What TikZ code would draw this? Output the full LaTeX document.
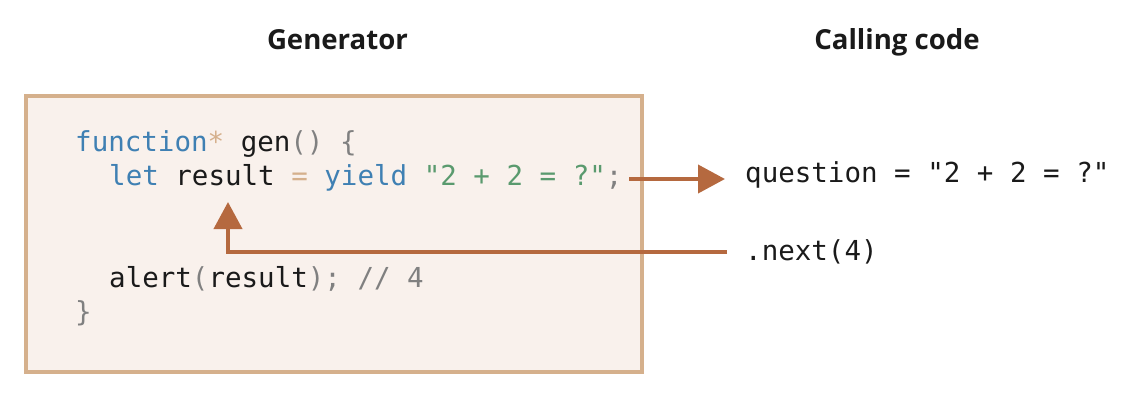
\documentclass[tikz,border=0pt]{standalone}
\usepackage{fontspec}
\setmainfont{Open Sans}
\setmonofont{DejaVu Sans Mono}
\usetikzlibrary{arrows.meta}
\definecolor{boxborder}{HTML}{D5B08C}
\definecolor{boxfill}{HTML}{F9F1EC}
\definecolor{arrowc}{HTML}{B5693F}
\definecolor{kw}{HTML}{3F80B3}
\definecolor{str}{HTML}{5A9A6E}
\definecolor{tan}{HTML}{D5B08C}
\definecolor{punct}{HTML}{808080}
\definecolor{txt}{HTML}{1A1A1A}
\tikzset{
  codeline/.style={anchor=base west, inner sep=0pt, font=\fontsize{27.5bp}{34bp}\selectfont\ttfamily, text=txt},
  title/.style={anchor=base, inner sep=0pt, font=\fontsize{27.6bp}{32bp}\selectfont\bfseries, text=txt},
  arr/.style={draw=arrowc, line width=4bp, -{Triangle[length=27bp,width=28bp]}, arrowc},
}
\begin{document}
\begin{tikzpicture}[x=1bp, y=-1bp]
\useasboundingbox (0,0) rectangle (1144,400);
\draw[draw=boxborder, fill=boxfill, line width=4bp] (26,96) rectangle (642,372);
\node[title] (t1) at (337.5,49) {Generator};
\node[title] (t2) at (897,49) {Calling code};
\node[codeline] (l1) at (75,151) {\textcolor{kw}{function}\textcolor{tan}{*} gen\textcolor{punct}{()} \textcolor{punct}{\{}};
\node[codeline] (l2) at (109,185) {\textcolor{kw}{let} result \textcolor{tan}{=} \textcolor{kw}{yield} \textcolor{str}{"2 + 2 = ?"}\textcolor{punct}{;}};
\node[codeline] (l3) at (109,287.5) {alert\textcolor{punct}{(}result\textcolor{punct}{)}\textcolor{punct}{; // 4}};
\node[codeline] (l4) at (75,321) {\textcolor{punct}{\}}};
\node[codeline] (q) at (745,182.5) {question = "2 + 2 = ?"};
\node[codeline] (n) at (745,260) {.next(4)};
\coordinate (a1s) at (629,179);
\coordinate (a1e) at (725,179);
\coordinate (a2s) at (727,252);
\coordinate (a2c) at (228,252);
\coordinate (a2e) at (228,202);
\draw[arr] (a1s) -- (a1e);
\draw[arr] (a2s) -- (a2c) -- (a2e);
\end{tikzpicture}
\end{document}
